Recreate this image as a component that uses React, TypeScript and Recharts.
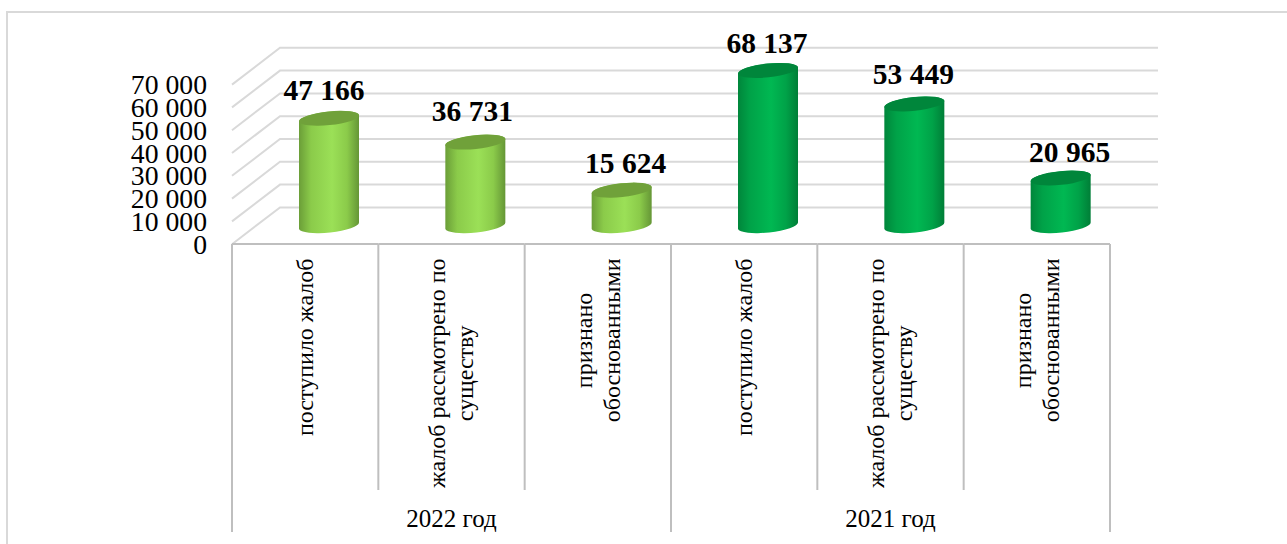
import React from "react";
import { BarChart, Bar, XAxis, YAxis, CartesianGrid, LabelList } from "recharts";

const categoryLines: string[][] = [
  ["поступило жалоб"],
  ["жалоб рассмотрено по", "существу"],
  ["признано", "обоснованными"],
  ["поступило жалоб"],
  ["жалоб рассмотрено по", "существу"],
  ["признано", "обоснованными"],
];
const yearGroups = ["2022 год", "2021 год"];
const yearOfCategory = [0, 0, 0, 1, 1, 1];
const values = [47166, 36731, 15624, 68137, 53449, 20965];
const yTicks = [0, 10000, 20000, 30000, 40000, 50000, 60000, 70000];

const data = values.map((v, i) => ({ key: i, value: v }));

const W = 1287, H = 544;
const FONT = "'Liberation Serif', 'Times New Roman', serif";
const DX = 24, DY = 18.4; // half of the pseudo-3D depth
const GRID = "#D9D9D9", AXIS = "#BFBFBF";
const fmt = (v: number) => String(v).replace(/\B(?=(\d{3})+$)/g, " ");
const labelNudge = [[-5, -28], [-3, -31], [4, -27], [-1, -27], [-1, -30], [9, -26]];

const measure = (() => {
  let ctx: CanvasRenderingContext2D | null = null;
  return (s: string, font: string) => {
    if (!ctx) ctx = document.createElement("canvas").getContext("2d");
    ctx!.font = font;
    return ctx!.measureText(s).width;
  };
})();

function GridLine(p: any) {
  const { x1, x2, y1 } = p;
  return (
    <polyline
      points={`${x1 - DX},${y1 + DY} ${x1 + DX},${y1 - DY} ${x2 + DX},${y1 - DY}`}
      fill="none" stroke={GRID} strokeWidth={2}
    />
  );
}

function CatTick(p: any) {
  const { x, index, width, visibleTicksCount } = p;
  const band = width / visibleTicksCount;
  const cx = x - DX;
  const left = cx - band / 2, right = cx + band / 2;
  const top = 244;
  const lines = categoryLines[index];
  const fs = 24;
  const block = Math.max(...lines.map((l) => measure(l, `${fs}px 'Liberation Serif'`)));
  const cy = 258.5 + block / 2;
  const lh = 28;
  const firstOfGroup = index % 3 === 0;
  const lastOfAll = index === categoryLines.length - 1;
  return (
    <g>
      <line x1={left} x2={right} y1={top} y2={top} stroke={AXIS} strokeWidth={2} />
      <line x1={left} x2={left} y1={top} y2={firstOfGroup ? 532 : 490} stroke={AXIS} strokeWidth={2} />
      {lastOfAll && <line x1={right} x2={right} y1={top} y2={532} stroke={AXIS} strokeWidth={2} />}
      {lines.map((l, i) => {
        const tx = cx + (i - (lines.length - 1) / 2) * lh;
        return (
          <text key={i} x={tx} y={cy} transform={`rotate(-90 ${tx} ${cy})`} textAnchor="middle"
            dominantBaseline="central" fontFamily={FONT} fontSize={fs} fill="#000">{l}</text>
        );
      })}
      {index % 3 === 1 && (
        <text x={cx} y={518} textAnchor="middle" dominantBaseline="central" fontFamily={FONT} fontSize={25} fill="#000">
          {yearGroups[yearOfCategory[index]]}
        </text>
      )}
    </g>
  );
}

function ValTick(p: any) {
  const { x, y, payload } = p;
  return (
    <text x={x} y={y + DY} textAnchor="end" dominantBaseline="central" fontFamily={FONT} fontSize={27.7} fill="#000">
      {fmt(payload.value)}
    </text>
  );
}

function Cylinder(p: any) {
  const { x, y, width: w, height: h, index } = p;
  const dark = yearOfCategory[index] === 1;
  const s = 3.3, rx = 30.2, ry = 6.9, rot = -6;
  const y0 = y + h;
  const body = `M${x},${y + s} L${x},${y0 + s} A${rx},${ry} ${rot} 0 0 ${x + w},${y0 - s} L${x + w},${y - s} A${rx},${ry} ${rot} 0 0 ${x},${y + s} Z`;
  return (
    <g>
      <path d={body} fill={`url(#${dark ? "cylDark" : "cylLight"})`} />
      <ellipse cx={x + w / 2} cy={y} rx={rx} ry={ry} transform={`rotate(${rot} ${x + w / 2} ${y})`} fill={dark ? "#00863B" : "#70A13A"} />
    </g>
  );
}

function ValueLabel(p: any) {
  const { x, y, width, index, value } = p;
  const [dx, dy] = labelNudge[index];
  return (
    <text x={x + width / 2 + dx} y={y + dy} textAnchor="middle" dominantBaseline="central"
      fontFamily={FONT} fontSize={29.5} fontWeight="bold" fill="#000">{fmt(value)}</text>
  );
}

export default function App() {
  return (
    <div style={{ position: "absolute", left: 0, top: 0, width: W, height: H, background: "#fff", overflow: "hidden" }}>
      <div style={{ position: "absolute", left: 6, top: 11, width: 1300, height: 560, border: "2px solid #D9D9D9", boxSizing: "border-box" }} />
      <BarChart width={W} height={H} data={data} barCategoryGap={0}
        margin={{ top: 66.2, right: W - 1134, bottom: 0, left: 0 }}>
        <defs>
          <linearGradient id="cylLight" x1="0" x2="1" y1="0" y2="0">
            <stop offset="0" stopColor="#6B9E38" />
            <stop offset="0.2" stopColor="#8BCB4A" />
            <stop offset="0.55" stopColor="#9BE057" />
            <stop offset="0.8" stopColor="#8BCB4A" />
            <stop offset="1" stopColor="#659636" />
          </linearGradient>
          <linearGradient id="cylDark" x1="0" x2="1" y1="0" y2="0">
            <stop offset="0" stopColor="#00863B" />
            <stop offset="0.2" stopColor="#00A248" />
            <stop offset="0.55" stopColor="#00B852" />
            <stop offset="0.8" stopColor="#00A248" />
            <stop offset="1" stopColor="#007E37" />
          </linearGradient>
        </defs>
        <CartesianGrid vertical={false} horizontal={(props: any) => <GridLine key={props.key ?? props.index} {...props} />} syncWithTicks />
        <XAxis dataKey="key" type="category" interval={0} axisLine={false} tickLine={false} height={H - 225.8} tick={CatTick} />
        <YAxis type="number" domain={[0, 70000]} ticks={yTicks} interval={0} axisLine={false} tickLine={false} width={256} tickMargin={0} tick={(props: any) => <ValTick {...props} x={207} />} />
        <Bar dataKey="value" barSize={60} isAnimationActive={false} shape={Cylinder}>
          <LabelList dataKey="value" content={ValueLabel} />
        </Bar>
      </BarChart>
    </div>
  );
}
